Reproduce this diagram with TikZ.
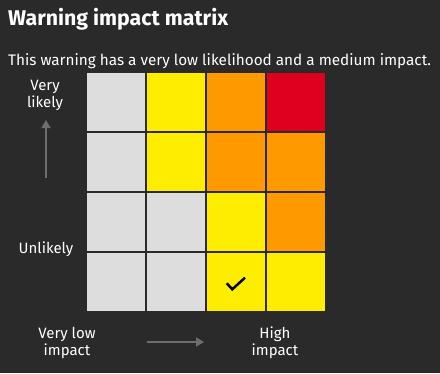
\documentclass[tikz,border=0pt]{standalone}
\usepackage{fontspec}
\setmainfont{Fira Sans}
\usetikzlibrary{arrows.meta,positioning}
\definecolor{BgClr}{HTML}{2A2A2A}
\definecolor{CellGrey}{HTML}{DDDDDD}
\definecolor{CellYellow}{HTML}{FFED00}
\definecolor{CellOrange}{HTML}{FF9900}
\definecolor{CellRed}{HTML}{DF001D}
\definecolor{ArrowClr}{HTML}{6E6E6E}

\begin{document}
\begin{tikzpicture}[x=1pt,y=-1pt,
  cell/.style={minimum size=58pt,inner sep=0pt,outer sep=0pt},
  lbl/.style={text=white,font=\fontsize{15}{17}\selectfont,align=center,inner sep=0pt},
  axis/.style={ArrowClr,line width=1.5pt,-{Triangle[length=8pt,width=9pt]}}]

\fill[BgClr] (0,0) rectangle (440,373);
\useasboundingbox (0,0) rectangle (440,373);

% heading
\node[anchor=base west,inner sep=0pt,text=white,font=\fontsize{21.3}{26}\selectfont\bfseries] (title) at (8,25) {Warning impact matrix};
\node[anchor=base west,inner sep=0pt,text=white,font=\fontsize{15.3}{18}\selectfont] (sub) at (8,65) {This warning has a very low likelihood and a medium impact.};

% the matrix, row 1 = very likely
\foreach \r/\c/\clr in {1/1/CellGrey,1/2/CellYellow,1/3/CellOrange,1/4/CellRed,
  2/1/CellGrey,2/2/CellYellow,2/3/CellOrange,2/4/CellOrange,
  3/1/CellGrey,3/2/CellGrey,3/3/CellYellow,3/4/CellOrange,
  4/1/CellGrey,4/2/CellGrey,4/3/CellYellow,4/4/CellYellow}
  \node[cell,fill=\clr] (c\r\c) at ({116+60*(\c-1)},{102+60*(\r-1)}) {};

% tick
\draw[line width=2.5pt] ([shift={(-9.3,1.3)}]c43.center) -- ([shift={(-3.7,7.3)}]c43.center) -- ([shift={(9,-4.3)}]c43.center);

% likelihood
\node[lbl] (vlikely) at (45,95) {Very\\likely};
\node[lbl] (unlikely) at (46,249.5) {Unlikely};
\coordinate (up0) at (46,178);
\coordinate (up1) at (46,120);
\draw[axis] (up0) -- (up1);

% impact
\node[lbl] (vlow) at (67,342.5) {Very low\\impact};
\node[lbl] (high) at (275,342.5) {High\\impact};
\coordinate (rt0) at (147,342);
\coordinate (rt1) at (204,342);
\draw[axis] (rt0) -- (rt1);

\end{tikzpicture}
\end{document}
